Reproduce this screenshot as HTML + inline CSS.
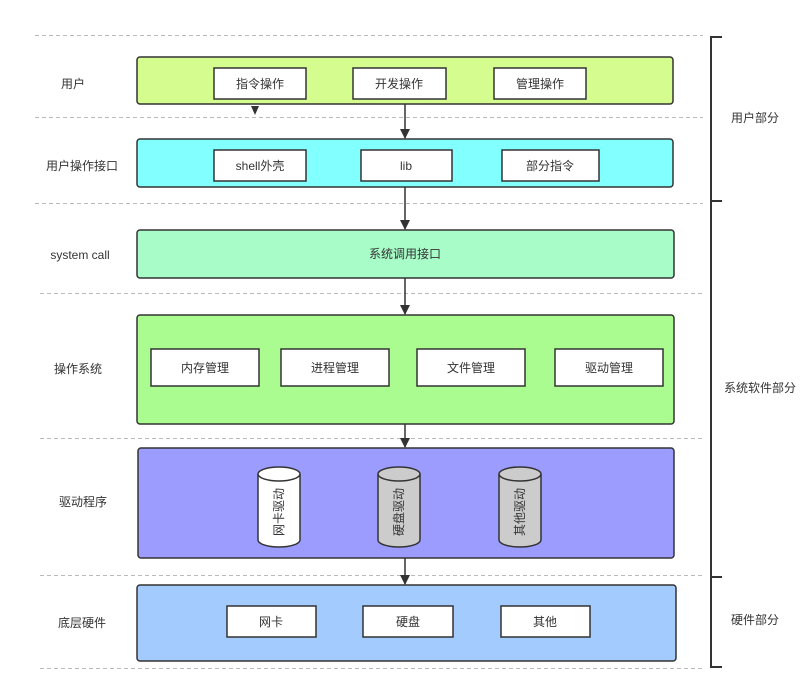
<!DOCTYPE html>
<html><head><meta charset="utf-8"><style>
html,body{margin:0;padding:0;background:#fff;width:812px;height:691px;overflow:hidden}
text{font-family:"Liberation Sans","Noto Sans CJK SC",sans-serif;font-size:12px;fill:#333}
</style></head><body>
<svg width="812" height="691" viewBox="0 0 812 691" xmlns="http://www.w3.org/2000/svg">
<defs><marker id="a" markerWidth="10" markerHeight="10" refX="9" refY="5" orient="auto" markerUnits="userSpaceOnUse"><path d="M0,0 L10,5 L0,10 z" fill="#333"/></marker></defs>
<g stroke="#bbb" stroke-width="1" stroke-dasharray="4,3">
<line x1="35" y1="35.5" x2="703" y2="35.5"/>
<line x1="35" y1="117.5" x2="703" y2="117.5"/>
<line x1="35" y1="203.5" x2="703" y2="203.5"/>
<line x1="40" y1="293.5" x2="703" y2="293.5"/>
<line x1="40" y1="438.5" x2="703" y2="438.5"/>
<line x1="40" y1="575.5" x2="703" y2="575.5"/>
<line x1="40" y1="668.5" x2="703" y2="668.5"/>
</g>
<g stroke="#333" stroke-width="2" fill="none">
<path d="M722,37 H711 V667 H722"/>
<line x1="711" y1="201" x2="722" y2="201"/>
<line x1="711" y1="577" x2="722" y2="577"/>
</g>
<text x="755" y="122" text-anchor="middle">用户部分</text>
<text x="760" y="392" text-anchor="middle">系统软件部分</text>
<text x="755" y="624" text-anchor="middle">硬件部分</text>
<g text-anchor="middle">
<text x="73" y="88">用户</text>
<text x="82" y="170">用户操作接口</text>
<text x="80" y="259">system call</text>
<text x="78" y="373">操作系统</text>
<text x="83" y="506">驱动程序</text>
<text x="82" y="627">底层硬件</text>
</g>
<g stroke="#333" stroke-width="1.5">
<rect x="137" y="57" width="536" height="47" rx="3" fill="#d5fc8e"/>
<rect x="137" y="139" width="536" height="48" rx="3" fill="#82ffff"/>
<rect x="137" y="230" width="537" height="48" rx="3" fill="#a8fcc8"/>
<rect x="137" y="315" width="537" height="109" rx="3" fill="#aafc90"/>
<rect x="138" y="448" width="536" height="110" rx="3" fill="#9c9cff"/>
<rect x="137" y="585" width="539" height="76" rx="3" fill="#a3cbfd"/>
</g>
<g stroke="#333" stroke-width="1.5" fill="#fff">
<rect x="214" y="68" width="92" height="31"/>
<rect x="353" y="68" width="93" height="31"/>
<rect x="494" y="68" width="92" height="31"/>
<rect x="214" y="150" width="92" height="31"/>
<rect x="361" y="150" width="91" height="31"/>
<rect x="502" y="150" width="97" height="31"/>
<rect x="151" y="349" width="108" height="37"/>
<rect x="281" y="349" width="108" height="37"/>
<rect x="417" y="349" width="108" height="37"/>
<rect x="555" y="349" width="108" height="37"/>
<rect x="227" y="606" width="89" height="31"/>
<rect x="363" y="606" width="90" height="31"/>
<rect x="501" y="606" width="89" height="31"/>
</g>
<g text-anchor="middle">
<text x="260" y="88">指令操作</text>
<text x="399" y="88">开发操作</text>
<text x="540" y="88">管理操作</text>
<text x="260" y="170">shell外壳</text>
<text x="406" y="170">lib</text>
<text x="550" y="170">部分指令</text>
<text x="405" y="258">系统调用接口</text>
<text x="205" y="372">内存管理</text>
<text x="335" y="372">进程管理</text>
<text x="471" y="372">文件管理</text>
<text x="609" y="372">驱动管理</text>
<text x="271" y="626">网卡</text>
<text x="408" y="626">硬盘</text>
<text x="545" y="626">其他</text>
</g>
<g stroke="#333" stroke-width="1.5">
<path d="M258,474 V540 A21,7 0 0 0 300,540 V474" fill="#fff"/>
<ellipse cx="279" cy="474" rx="21" ry="7" fill="#fff"/>
<path d="M378,474 V540 A21,7 0 0 0 420,540 V474" fill="#ccc"/>
<ellipse cx="399" cy="474" rx="21" ry="7" fill="#ccc"/>
<path d="M499,474 V540 A21,7 0 0 0 541,540 V474" fill="#ccc"/>
<ellipse cx="520" cy="474" rx="21" ry="7" fill="#ccc"/>
</g>
<g text-anchor="middle">
<text transform="translate(283,512) rotate(-90)">网卡驱动</text>
<text transform="translate(403,512) rotate(-90)">硬盘驱动</text>
<text transform="translate(524,512) rotate(-90)">其他驱动</text>
</g>
<g stroke="#333" stroke-width="1.5" marker-end="url(#a)">
<line x1="405" y1="104" x2="405" y2="138"/>
<line x1="405" y1="187" x2="405" y2="229"/>
<line x1="405" y1="278" x2="405" y2="314"/>
<line x1="405" y1="424" x2="405" y2="447"/>
<line x1="405" y1="558" x2="405" y2="584"/>
</g>
<path d="M251,106 L259,106 L255,115 z" fill="#333"/>
</svg>
</body></html>
